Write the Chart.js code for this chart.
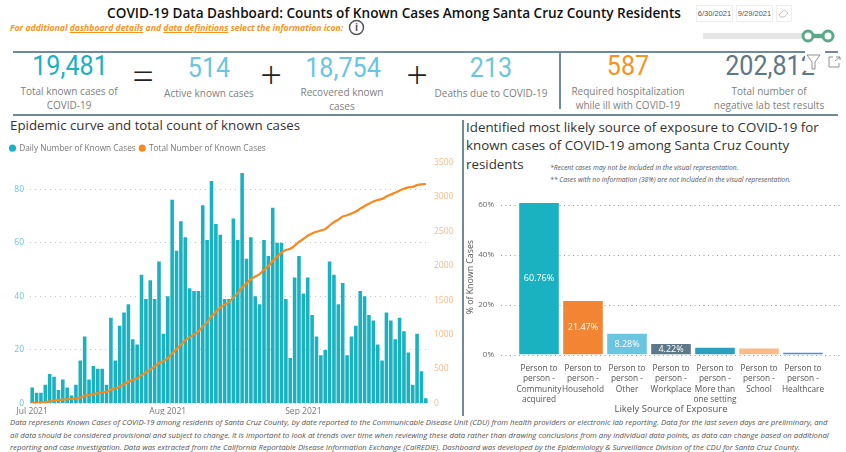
<!DOCTYPE html>
<html>
<head>
<meta charset="utf-8">
<script src="https://cdn.jsdelivr.net/npm/chart.js@4"></script>
<style>
html, body { margin: 0; padding: 0; background: #fff; overflow: hidden; }
body { width: 846px; height: 452px; position: relative; font-family: "Open Sans", sans-serif; }
.t { position: absolute; white-space: nowrap; line-height: 1; }
.c { transform: translate(-50%, -50%); text-align: center; }
.num { font-family: Roboto, sans-serif; font-size: 27px; }
.num span { display: inline-block; transform: scaleX(0.93); }
.lbl { font-size: 10px; color: #808080; line-height: 14px; }
.op { font-family: "Open Sans", sans-serif; font-size: 38px; color: #222; font-weight: 300; }
.rule { position: absolute; background: #6f8b9a; }
.box { position: absolute; border: 1px solid #eee; font: 7.5px "Liberation Sans", sans-serif; color: #555; text-align: center; line-height: 15px; height: 15px; }
.wrap { position: absolute; }
</style>
</head>
<body>
<div class="t c" style="left:394px;top:13px;font-size:13.6px;font-weight:600;color:#111">COVID-19 Data Dashboard: Counts of Known Cases Among Santa Cruz County Residents</div>
<div class="t" style="left:10px;top:24px;font-size:8.65px;font-weight:700;font-style:italic;color:#f7941d">For additional <u>dashboard details</u> and <u>data definitions</u> select the information icon:</div>
<svg style="position:absolute;left:348px;top:19px" width="17" height="17"><circle cx="8.5" cy="8.5" r="7" fill="none" stroke="#555" stroke-width="1.5"/><text x="8.5" y="12" font-size="10" font-weight="700" text-anchor="middle" fill="#555" font-family="Open Sans">i</text></svg>

<div class="box" style="left:696px;top:5px;width:35px">6/30/2021</div>
<div class="box" style="left:736px;top:5px;width:35px">9/29/2021</div>
<div class="box" style="left:776px;top:5px;width:14px"></div>
<svg style="position:absolute;left:778px;top:8px" width="11" height="11"><path d="M1 7 L6 2 L10 5 L6 9 H3 Z" fill="none" stroke="#aaa" stroke-width="0.7"/></svg>
<svg style="position:absolute;left:700px;top:26px" width="140" height="20"><rect x="3" y="7" width="130" height="6" fill="#e6e6e6"/><rect x="108" y="8" width="20" height="4" fill="#5ba88a"/><circle cx="108" cy="10" r="5" fill="#fff" stroke="#5ba88a" stroke-width="3"/><circle cx="128" cy="10" r="5" fill="#fff" stroke="#5ba88a" stroke-width="3"/></svg>

<div class="rule" style="left:13px;top:51px;width:825px;height:2px"></div>
<div class="rule" style="left:13px;top:114px;width:825px;height:2px"></div>
<div class="rule" style="left:559px;top:52px;width:2px;height:57px"></div>

<div class="t c num" style="left:70px;top:66px;color:#1ab2c0"><span>19,481</span></div>
<div class="t c lbl" style="left:69px;top:98px">Total known cases of<br>COVID-19</div>
<div class="t c op" style="left:143px;top:75px">=</div>
<div class="t c num" style="left:209px;top:68px;color:#69c5e0"><span>514</span></div>
<div class="t c lbl" style="left:209px;top:93px">Active known cases</div>
<div class="t c op" style="left:271px;top:74px">+</div>
<div class="t c num" style="left:343px;top:68px;color:#69c5e0"><span>18,754</span></div>
<div class="t c lbl" style="left:342px;top:99px">Recovered known<br>cases</div>
<div class="t c op" style="left:417px;top:74px">+</div>
<div class="t c num" style="left:491px;top:68px;color:#69c5e0"><span>213</span></div>
<div class="t c lbl" style="left:491px;top:93px">Deaths due to COVID-19</div>
<div class="t c num" style="left:628px;top:66px;color:#f7941d"><span>587</span></div>
<div class="t c lbl" style="left:628px;top:98px">Required hospitalization<br>while ill with COVID-19</div>
<div class="t c num" style="left:770px;top:66px;color:#5d7886"><span>202,812</span></div>
<div class="t c lbl" style="left:769px;top:98px">Total number of<br>negative lab test results</div>
<svg style="position:absolute;left:805px;top:51px;background:#fff" width="20" height="20"><path d="M2 4 H15 L10 11 V18 H7 V11 Z" fill="none" stroke="#777" stroke-width="0.8"/></svg>
<svg style="position:absolute;left:828px;top:56px" width="14" height="12"><path d="M5 1 H1 V11 H11 V7 M7 5 L12 1 M8 1 H12 V4" fill="none" stroke="#777" stroke-width="0.8"/></svg>

<div class="t" style="left:10px;top:119px;font-size:13.3px;color:#333">Epidemic curve and total count of known cases</div>
<div class="t" style="left:466px;top:118px;font-size:13.35px;line-height:18.4px;color:#333">Identified most likely source of exposure to COVID-19 for<br>known cases of COVID-19 among Santa Cruz County<br>residents</div>
<div class="t" style="left:550px;top:165px;font-size:6.75px;font-style:italic;color:#555">*Recent cases may not be included in the visual representation.</div>
<div class="t" style="left:550px;top:177px;font-size:6.75px;font-style:italic;color:#555">** Cases with no information (38%) are not included in the visual representation.</div>
<div class="rule" style="left:462px;top:120px;width:2px;height:296px"></div>

<div class="wrap" style="left:0;top:140px;width:460px;height:275px"><canvas id="Chart1"></canvas></div>
<div class="wrap" style="left:465px;top:172px;width:381px;height:243px"><canvas id="Chart2"></canvas></div>

<div class="t" style="left:10px;top:416px;font-size:7.75px;font-style:italic;color:#555;line-height:12.5px">Data represents Known Cases of COVID-19 among residents of Santa Cruz County, by date reported to the Communicable Disease Unit (CDU) from health providers or electronic lab reporting.  Data for the last seven days are preliminary, and<br>all data should be considered provisional and subject to change.  It is important to look at trends over time when reviewing these data rather than drawing conclusions from any individual data points, as data can change based on additional<br>reporting and case investigation.  Data was extracted from the California Reportable Disease Information Exchange (CalREDIE).  Dashboard was developed by the Epidemiology &amp; Surveillance Division of the CDU for Santa Cruz County.</div>

<script>
// one entry per day, Jul 1 - Sep 29 2021
const dailyCases = [6,4,4,7,11,10,5,9,6,3,7,16,25,9,14,13,13,7,32,16,29,34,37,24,22,48,39,46,39,53,26,
    40,76,57,68,62,43,42,42,74,61,83,67,63,39,39,69,61,86,54,62,40,37,61,55,73,60,60,39,17,47,
    55,41,47,33,25,18,20,53,48,37,45,18,25,29,42,40,33,31,22,16,34,31,24,32,27,19,7,26,12,2];
const totalCases = [6,10,14,21,32,42,47,56,62,65,72,88,113,122,136,149,162,169,201,217,246,280,317,341,363,411,450,496,535,588,614,
    654,730,787,855,917,960,1002,1044,1118,1179,1262,1329,1392,1431,1470,1539,1600,1686,1740,1802,1842,1879,1940,1995,2068,2128,2188,2227,2244,2291,
    2346,2387,2434,2467,2492,2510,2530,2583,2631,2668,2713,2731,2756,2785,2827,2867,2900,2931,2953,2969,3003,3034,3058,3090,3117,3136,3143,3169,3181,3183];
const monthTicks = { 0: 'Jul 2021', 31: 'Aug 2021', 62: 'Sep 2021' };

const sourceLabels = [
    ['Person to', 'person -', 'Community', 'acquired'],
    ['Person to', 'person -', 'Household'],
    ['Person to', 'person -', 'Other'],
    ['Person to', 'person -', 'Workplace'],
    ['Person to', 'person -', 'More than', 'one setting'],
    ['Person to', 'person -', 'School'],
    ['Person to', 'person -', 'Healthcare']
];
const sourceValues = [60.76, 21.47, 8.28, 4.22, 2.7, 2.4, 0.7];
const sourceColors = ['#1ab2c0', '#f28533', '#69c5e0', '#5d7886', '#2a9fbe', '#fcba86', '#4a90d9'];

Chart.defaults.font.family = '"Open Sans", sans-serif';
Chart.defaults.animation = false;

const fixWidth = (w) => (scale) => { scale.width = w; };
const fixHeight = (h) => (scale) => { scale.height = h; };

new Chart(document.getElementById('Chart1').getContext('2d'), {
    type: 'bar',
    data: {
        labels: dailyCases.map((v, i) => i),
        datasets: [
            {
                type: 'line',
                label: 'Total Number of Known Cases',
                data: totalCases,
                yAxisID: 'y2',
                borderColor: '#f58a1f',
                backgroundColor: '#f58a1f',
                borderWidth: 2.2,
                pointRadius: 0,
                tension: 0.3,
                order: 1
            },
            {
                label: 'Daily Number of Known Cases',
                data: dailyCases,
                yAxisID: 'y',
                backgroundColor: '#1ab2c0',
                barPercentage: 0.82,
                categoryPercentage: 1,
                order: 2
            }
        ]
    },
    options: {
        responsive: true,
        maintainAspectRatio: false,
        layout: { padding: { left: 6 } },
        scales: {
            x: {
                grid: { display: false, drawTicks: false },
                border: { display: false },
                afterFit: fixHeight(11.5),
                ticks: {
                    autoSkip: false,
                    maxRotation: 0,
                    padding: 3,
                    color: '#777',
                    font: { size: 8.5 },
                    callback: (v, i) => monthTicks[i] || ''
                }
            },
            y: {
                position: 'left',
                min: 0,
                max: 90,
                afterFit: fixWidth(24),
                border: { display: false, dash: [1, 4] },
                grid: { color: '#c8c8c8', drawTicks: false },
                ticks: { stepSize: 20, includeBounds: false, padding: 6, color: '#69c5e0', font: { size: 8.5 } }
            },
            y2: {
                position: 'right',
                min: 0,
                max: 3500,
                afterFit: fixWidth(32),
                border: { display: false },
                grid: { display: false, drawTicks: false },
                ticks: { stepSize: 500, padding: 6, color: '#fcba86', font: { size: 8.5 }, callback: (v) => String(v) }
            }
        },
        plugins: {
            legend: {
                position: 'top',
                align: 'start',
                reverse: true,
                labels: {
                    usePointStyle: true,
                    pointStyle: 'circle',
                    boxWidth: 5,
                    boxHeight: 5,
                    padding: 4,
                    color: '#777',
                    font: { size: 8.3 },
                    generateLabels: (chart) => Chart.defaults.plugins.legend.labels.generateLabels(chart)
                        .map((item) => ({ ...item, lineWidth: 0 }))
                }
            },
            tooltip: { enabled: false }
        }
    }
});

// long dotted gridlines and % labels inside the bars
const sourcePlugin = {
    id: 'sourcePlugin',
    beforeDatasetsDraw(chart) {
        const { ctx, scales: { y } } = chart;
        ctx.save();
        ctx.strokeStyle = '#999';
        ctx.setLineDash([1, 3.5]);
        y.ticks.forEach((t) => {
            const py = Math.round(y.getPixelForValue(t.value)) + 0.5;
            ctx.beginPath();
            ctx.moveTo(36, py);
            ctx.lineTo(375, py);
            ctx.stroke();
        });
        ctx.restore();
    },
    afterDatasetsDraw(chart) {
        const { ctx } = chart;
        const meta = chart.getDatasetMeta(0);
        ctx.save();
        ctx.fillStyle = '#fff';
        ctx.font = '9px "Open Sans", sans-serif';
        ctx.textAlign = 'center';
        ctx.textBaseline = 'middle';
        sourceValues.forEach((v, i) => {
            if (v < 4) return;
            const bar = meta.data[i];
            ctx.fillText(v.toFixed(2) + '%', bar.x, (bar.y + bar.base) / 2);
        });
        ctx.restore();
    }
};

new Chart(document.getElementById('Chart2').getContext('2d'), {
    type: 'bar',
    data: {
        labels: sourceLabels,
        datasets: [{
            data: sourceValues,
            backgroundColor: sourceColors,
            barPercentage: 0.9,
            categoryPercentage: 1
        }]
    },
    options: {
        responsive: true,
        maintainAspectRatio: false,
        layout: { padding: { top: 9, right: 21 } },
        scales: {
            x: {
                grid: { display: false, drawTicks: false },
                border: { display: false },
                afterFit: fixHeight(60.5),
                ticks: { autoSkip: false, maxRotation: 0, padding: 9, color: '#555', font: { size: 8.3, lineHeight: 1.24 } },
                title: { display: true, text: 'Likely Source of Exposure', color: '#555', padding: 0, font: { size: 9.5, weight: '500' } }
            },
            y: {
                min: 0,
                max: 62,
                afterFit: fixWidth(52),
                border: { display: false },
                grid: { display: false, drawTicks: false },
                ticks: { stepSize: 20, includeBounds: false, padding: 23, color: '#666', font: { size: 8 }, callback: (v) => v + '%' },
                title: { display: true, text: '% of Known Cases', color: '#555', padding: 0, font: { size: 8.8 } }
            }
        },
        plugins: {
            legend: { display: false },
            tooltip: { enabled: false }
        }
    },
    plugins: [sourcePlugin]
});
</script>
</body>
</html>
